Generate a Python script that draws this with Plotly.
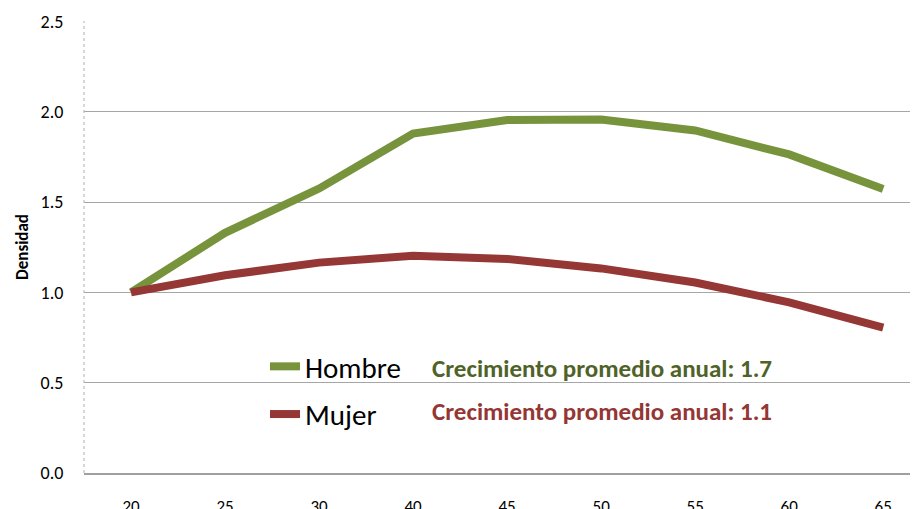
import plotly.graph_objects as go

edades = ["20", "25", "30", "40", "45", "50", "55", "60", "65"]
hombre = [1.00, 1.33, 1.575, 1.88, 1.955, 1.957, 1.897, 1.764, 1.573]
mujer = [1.00, 1.095, 1.165, 1.203, 1.185, 1.133, 1.055, 0.945, 0.805]
y_ticks = [0.0, 0.5, 1.0, 1.5, 2.0, 2.5]
y_labels = ["0.0", "0.5", "1.0", "1.5", "2.0", "2.5"]

verde = "#77933C"
rojo = "#953735"
font_main = "Carlito, Lato, Open Sans, sans-serif"

fig = go.Figure()
fig.add_trace(go.Scatter(x=edades, y=hombre, mode="lines", name="Hombre",
                         legendgroup="h",
                         line=dict(color=verde, width=8)))
fig.add_trace(go.Scatter(x=edades, y=mujer, mode="lines", name="Mujer",
                         legendgroup="m",
                         line=dict(color=rojo, width=8)))

# page body has an 8px margin: work in reference pixel coords, offset by OFF
OFF = 8
W, H = 918 - OFF, 509 - OFF
L = 84 - OFF
T = 21 - OFF
B = H - (473 - OFF)
pw = W - L
ph = H - T - B


def px_x(p):
    return (p - OFF - L) / pw


def px_y(p):
    return (H - B - (p - OFF)) / ph


fig.add_annotation(x=px_x(430), y=px_y(368), xref="paper", yref="paper",
                   xanchor="left", yanchor="middle", showarrow=False,
                   text="<b>Crecimiento promedio anual: 1.7</b>",
                   font=dict(family=font_main, size=25, color="#4F6228"))
fig.add_annotation(x=px_x(430), y=px_y(411), xref="paper", yref="paper",
                   xanchor="left", yanchor="middle", showarrow=False,
                   text="<b>Crecimiento promedio anual: 1.1</b>",
                   font=dict(family=font_main, size=25, color="#943634"))
fig.add_annotation(x=px_x(22), y=px_y(247), xref="paper", yref="paper",
                   text="<b>Densidad</b>", showarrow=False, textangle=-90,
                   xanchor="center", yanchor="middle",
                   font=dict(family=font_main, size=17, color="#000000"))

fig.add_shape(type="line", xref="paper", yref="paper", x0=0, x1=0, y0=0, y1=1,
              line=dict(color="#B0B0B0", width=1, dash="dot"))

fig.update_layout(
    width=W, height=H,
    margin=dict(l=L, r=0, t=T, b=B, pad=0, autoexpand=False),
    paper_bgcolor="white", plot_bgcolor="white",
    font=dict(family=font_main, color="#000000"),
    showlegend=True,
    legend=dict(x=px_x(265), y=px_y(341), xanchor="left", yanchor="top",
                font=dict(family=font_main, size=29, color="#000000"),
                bgcolor="rgba(0,0,0,0)", tracegroupgap=7,
                itemwidth=30),
    xaxis=dict(type="category", categoryarray=edades, range=[-0.5, 8.37],
               automargin=False,
               showgrid=False, showline=True, linecolor="#A0A0A0", linewidth=2,
               ticks="outside", ticklen=17, tickcolor="rgba(0,0,0,0)",
               tickfont=dict(family=font_main, size=17, color="#000000")),
    yaxis=dict(range=[0, 2.503], tickvals=y_ticks, ticktext=y_labels,
               automargin=False,
               showgrid=True, gridcolor="#A6A6A6", gridwidth=1,
               zeroline=False, showline=False,
               ticks="outside", ticklen=16, tickcolor="rgba(0,0,0,0)",
               tickfont=dict(family=font_main, size=18, color="#000000")),
)

fig.write_html("out.html")
